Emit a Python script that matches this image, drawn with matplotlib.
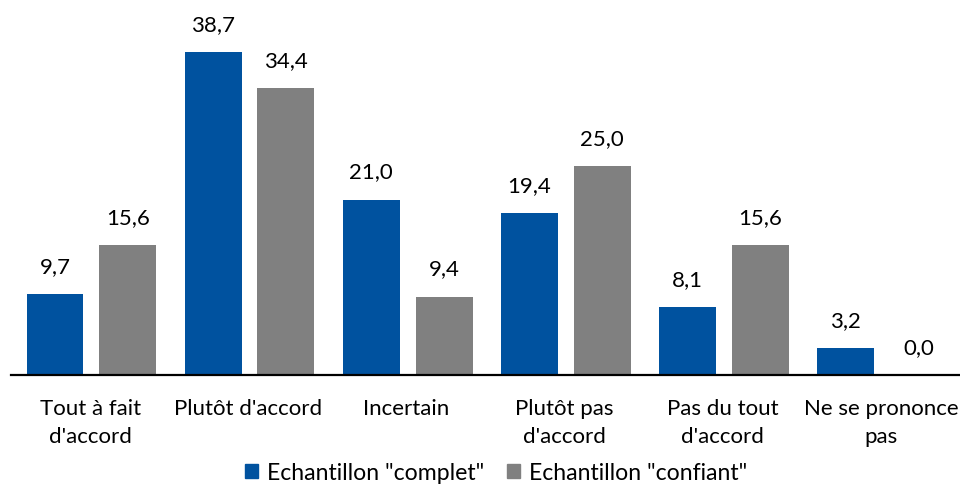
import matplotlib
matplotlib.use("Agg")
import matplotlib.pyplot as plt
import numpy as np
from matplotlib.patches import Patch

categories = ["Tout à fait\nd'accord", "Plutôt d'accord", "Incertain",
              "Plutôt pas\nd'accord", "Pas du tout\nd'accord", "Ne se prononce\npas"]
complet = [9.7, 38.7, 21.0, 19.4, 8.1, 3.2]
confiant = [15.6, 34.4, 9.4, 25.0, 15.6, 0.0]
series_names = ['Echantillon "complet"', 'Echantillon "confiant"']
colors = ["#00529F", "#808080"]

plt.rcParams['font.family'] = ['Lato', 'DejaVu Sans']
FS = 16

fig = plt.figure(figsize=(9.6, 4.84), dpi=100)
ax = fig.add_axes([11/960, (484-375)/484, 949/960, 334/484])

x = np.arange(len(categories))
w = 0.36
b1 = ax.bar(x - 0.222, complet, width=w, color=colors[0], label=series_names[0])
b2 = ax.bar(x + 0.238, confiant, width=w, color=colors[1], label=series_names[1])

def fmt(v):
    return f"{v:.1f}".replace(".", ",")

for bars, vals in ((b1, complet), (b2, confiant)):
    for r, v in zip(bars, vals):
        ax.annotate(fmt(v), (r.get_x() + r.get_width()/2, v), xytext=(0, 19.5),
                    textcoords="offset points", ha="center", va="center",
                    fontsize=FS, color="#000000", annotation_clip=False)

ax.set_xlim(-0.5, len(categories) - 0.5)
ax.set_ylim(0, 40)
for s in ("top", "right", "left"):
    ax.spines[s].set_visible(False)
ax.spines["bottom"].set_linewidth(1.6)
ax.spines["bottom"].set_color("black")
ax.set_yticks([])
ax.set_xticks(x)
ax.set_xticklabels(categories, fontsize=FS, linespacing=1.5)
ax.tick_params(axis="x", length=0, pad=17)

handles = [Patch(color=colors[0]), Patch(color=colors[1])]
fig.legend(handles, series_names, loc="center", bbox_to_anchor=(496/960, 11/484),
           ncol=2, frameon=False, fontsize=16.6, handlelength=0.55, handleheight=0.55,
           handletextpad=0.4, columnspacing=1.0)

fig.savefig("out.png", dpi=100)
